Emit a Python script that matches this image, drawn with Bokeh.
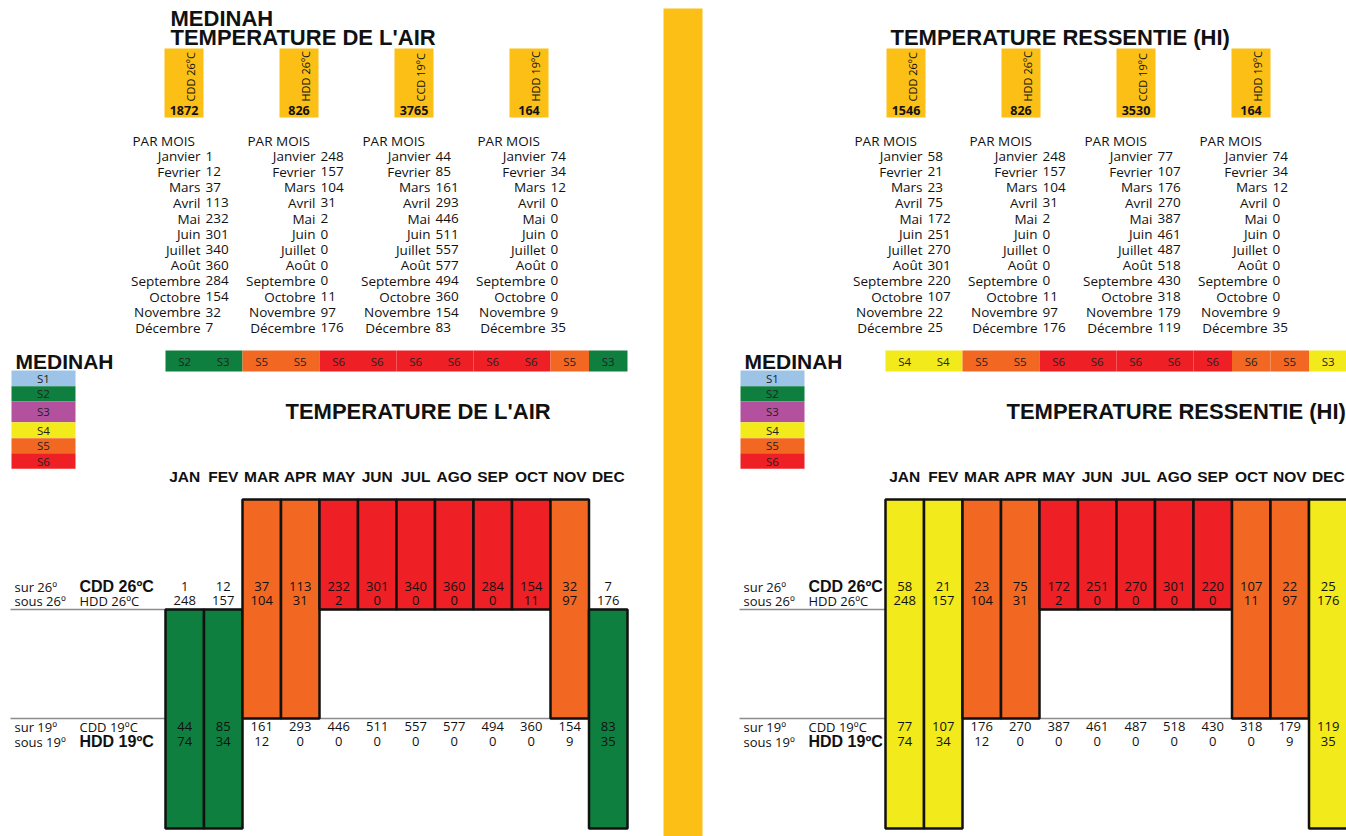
import math
from bokeh.plotting import figure
from bokeh.models import Range1d
from bokeh.embed import file_html
from bokeh.resources import INLINE
from bokeh.core.properties import value

# ---------------- DATA ----------------
months_fr = ["Janvier", "Fevrier", "Mars", "Avril", "Mai", "Juin", "Juillet",
             "Août", "Septembre", "Octobre", "Novembre", "Décembre"]
months_hdr = ["JAN", "FEV", "MAR", "APR", "MAY", "JUN", "JUL", "AGO", "SEP", "OCT", "NOV", "DEC"]

air_cdd26 = [1, 12, 37, 113, 232, 301, 340, 360, 284, 154, 32, 7]
air_hdd26 = [248, 157, 104, 31, 2, 0, 0, 0, 0, 11, 97, 176]
air_cdd19 = [44, 85, 161, 293, 446, 511, 557, 577, 494, 360, 154, 83]
air_hdd19 = [74, 34, 12, 0, 0, 0, 0, 0, 0, 0, 9, 35]
air_totals = [1872, 826, 3765, 164]

hi_cdd26 = [58, 21, 23, 75, 172, 251, 270, 301, 220, 107, 22, 25]
hi_hdd26 = [248, 157, 104, 31, 2, 0, 0, 0, 0, 11, 97, 176]
hi_cdd19 = [77, 107, 176, 270, 387, 461, 487, 518, 430, 318, 179, 119]
hi_hdd19 = [74, 34, 12, 0, 0, 0, 0, 0, 0, 0, 9, 35]
hi_totals = [1546, 826, 3530, 164]

total_labels = ["CDD 26ºC", "HDD 26ºC", "CCD 19ºC", "HDD 19ºC"]

air_band = ["S2", "S3", "S5", "S5", "S6", "S6", "S6", "S6", "S6", "S6", "S5", "S3"]
air_level = [2, 2, 5, 5, 6, 6, 6, 6, 6, 6, 5, 2]
hi_band = ["S4", "S4", "S5", "S5", "S6", "S6", "S6", "S6", "S6", "S6", "S5", "S3"]
hi_level = [4, 4, 5, 5, 6, 6, 6, 6, 6, 5, 5, 4]

legend_labels = ["S1", "S2", "S3", "S4", "S5", "S6"]
level_colors = {1: "#9DC3E6", 2: "#0E7F3E", 3: "#B4519F", 4: "#F2EA1A", 5: "#F26722", 6: "#EE1F25"}
GOLD = "#FBBF15"

HEAD = "Liberation Sans"
BODY = "Open Sans"

# ---------------- FIGURE ----------------
p = figure(width=1346, height=836, output_backend="svg", toolbar_location=None,
           x_range=Range1d(0, 1346), y_range=Range1d(836, 0),
           min_border=0)
p.axis.visible = False
p.grid.visible = False
p.outline_line_color = None
p.background_fill_color = "white"


def txt(x, y, t, size, font=BODY, bold=False, align="left", color="#111111", angle=0.0):
    if not isinstance(x, list):
        x, y, t = [x], [y], [t]
    p.text(x=x, y=y, text=[str(s) for s in t], text_font=value(font),
           text_font_size=size, text_font_style="bold" if bold else "normal",
           text_align=align, text_baseline="middle", text_color=color, angle=angle)


# vertical separator
p.quad(left=[663], right=[702], top=[8], bottom=[836], fill_color=GOLD, line_color=None)


def panel(dxt, dxb, dxtop, top_titles, mid_title, totals, series, band, level):
    # top titles
    for (tx, ty, tt) in top_titles:
        txt(tx, ty, tt, "22px", HEAD, True)
    # total boxes
    bx = [164 + 115 * k + dxtop for k in range(4)]
    p.quad(left=bx, right=[b + 39 for b in bx], top=[48] * 4, bottom=[117] * 4,
           fill_color=GOLD, line_color=None)
    txt([b + 26 for b in bx], [101] * 4, total_labels, "11px", BODY, False, "left",
        "#111111", math.pi / 2)
    txt([b + 19.5 for b in bx], [109.5] * 4, totals, "12.5px", BODY, True, "center")
    # lists
    for k, ser in enumerate(series):
        cx = 115 * k + dxtop - 1
        txt(133 + cx, 140, "PAR MOIS", "13.5px")
        ys = [155.6 + 15.6 * i for i in range(12)]
        txt([201 + cx] * 12, ys, months_fr, "13.5px", align="right")
        txt([206 + cx] * 12, ys, ser, "13.5px")
    # band
    W = 38.5
    lefts = [165 + W * i + dxb for i in range(12)]
    centers = [l + W / 2 for l in lefts]
    p.quad(left=lefts, right=[l + W for l in lefts], top=[350] * 12, bottom=[371] * 12,
           fill_color=[level_colors[v] for v in level], line_color=None)
    txt(centers, [361] * 12, band, "11.5px", align="center", color="#222222")
    txt(15 + dxt, 361, "MEDINAH", "21px", HEAD, True)
    # legend
    edges = [370, 385.7, 401, 421.7, 437.7, 452.7, 468.3]
    p.quad(left=[11 + dxt] * 6, right=[75 + dxt] * 6, top=edges[:-1], bottom=edges[1:],
           fill_color=[level_colors[i + 1] for i in range(6)], line_color=None)
    txt([43 + dxt] * 6, [(edges[i] + edges[i + 1]) / 2 for i in range(6)], legend_labels,
        "11.5px", align="center", color="#222222")
    # mid title
    txt(mid_title[0], 411, mid_title[1], "22px", HEAD, True)
    # month headers
    txt(centers, [476] * 12, months_hdr, "15.5px", HEAD, True, "center")
    # divider lines
    p.segment(x0=[10 + dxt] * 2, x1=[627 + dxb] * 2, y0=[609, 718], y1=[609, 718],
              line_color="#8c8c8c", line_width=1.5)
    # bars
    tops = [499 if v >= 4 else 609 for v in level]
    bots = [609 if v == 6 else (718 if v == 5 else 828) for v in level]
    p.quad(left=lefts, right=[l + W for l in lefts], top=tops, bottom=bots,
           fill_color=[level_colors[v] for v in level], line_color="#111111", line_width=2.5)
    # row labels
    txt([14 + dxt] * 4, [586, 600, 726, 741], ["sur 26º", "sous 26º", "sur 19º", "sous 19º"], "13px")
    txt(79 + dxt, 586, "CDD 26ºC", "16px", HEAD, True)
    txt(79 + dxt, 600, "HDD 26ºC", "13px")
    txt(79 + dxt, 726, "CDD 19ºC", "13px")
    txt(79 + dxt, 741, "HDD 19ºC", "16px", HEAD, True)
    # row values
    for ser, yy in zip(series, [586, 600, 726, 741]):
        txt(centers, [yy] * 12, ser, "13px", align="center")


panel(0, 0, 0, [(170, 18, "MEDINAH"), (170, 37, "TEMPERATURE DE L'AIR")],
      (285, "TEMPERATURE DE L'AIR"), air_totals,
      [air_cdd26, air_hdd26, air_cdd19, air_hdd19], air_band, air_level)
panel(729, 720, 722, [(890, 37, "TEMPERATURE RESSENTIE (HI)")],
      (1006, "TEMPERATURE RESSENTIE (HI)"), hi_totals,
      [hi_cdd26, hi_hdd26, hi_cdd19, hi_hdd19], hi_band, hi_level)

open("out.html", "w").write(file_html(p, INLINE))
